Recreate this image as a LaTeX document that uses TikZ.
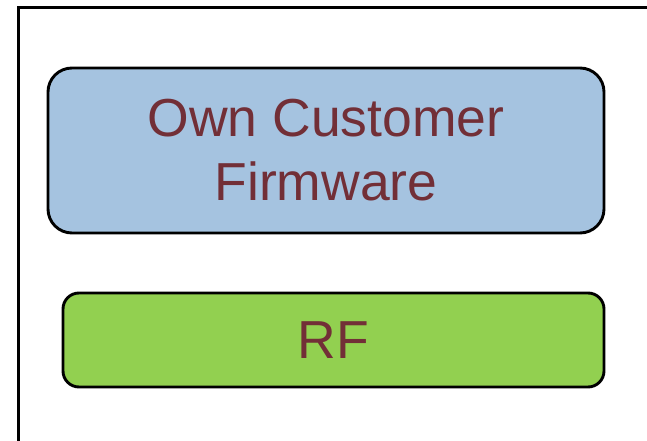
\documentclass[tikz,border=0pt]{standalone}
\usepackage{fontspec}
\setmainfont{Liberation Sans}
\definecolor{txtred}{HTML}{722F37}
\definecolor{boxblue}{HTML}{A5C3E0}
\definecolor{boxgreen}{HTML}{92D050}
\tikzset{
  layerbox/.style={draw=black, line width=2.9pt, align=center, text=txtred,
    font=\fontsize{53.5}{64}\selectfont, inner sep=0pt},
  frameline/.style={draw=black, line width=3pt}
}
\begin{document}
\begin{tikzpicture}[x=1pt,y=-1pt]
\useasboundingbox (0,0) rectangle (647,441);
\coordinate (ftop) at (647,8);
\coordinate (fcorner) at (18,8);
\coordinate (fbot) at (18,441);
\draw[frameline] (ftop) -- (fcorner) -- (fbot);
\node[layerbox, fill=boxblue, rounded corners=24pt, minimum width=556pt, minimum height=165pt]
  (fw) at (326,150.5) {Own Customer\\Firmware};
\node[layerbox, fill=boxgreen, rounded corners=16pt, minimum width=541pt, minimum height=94pt]
  (rf) at (333.5,340) {RF};
\end{tikzpicture}
\end{document}
